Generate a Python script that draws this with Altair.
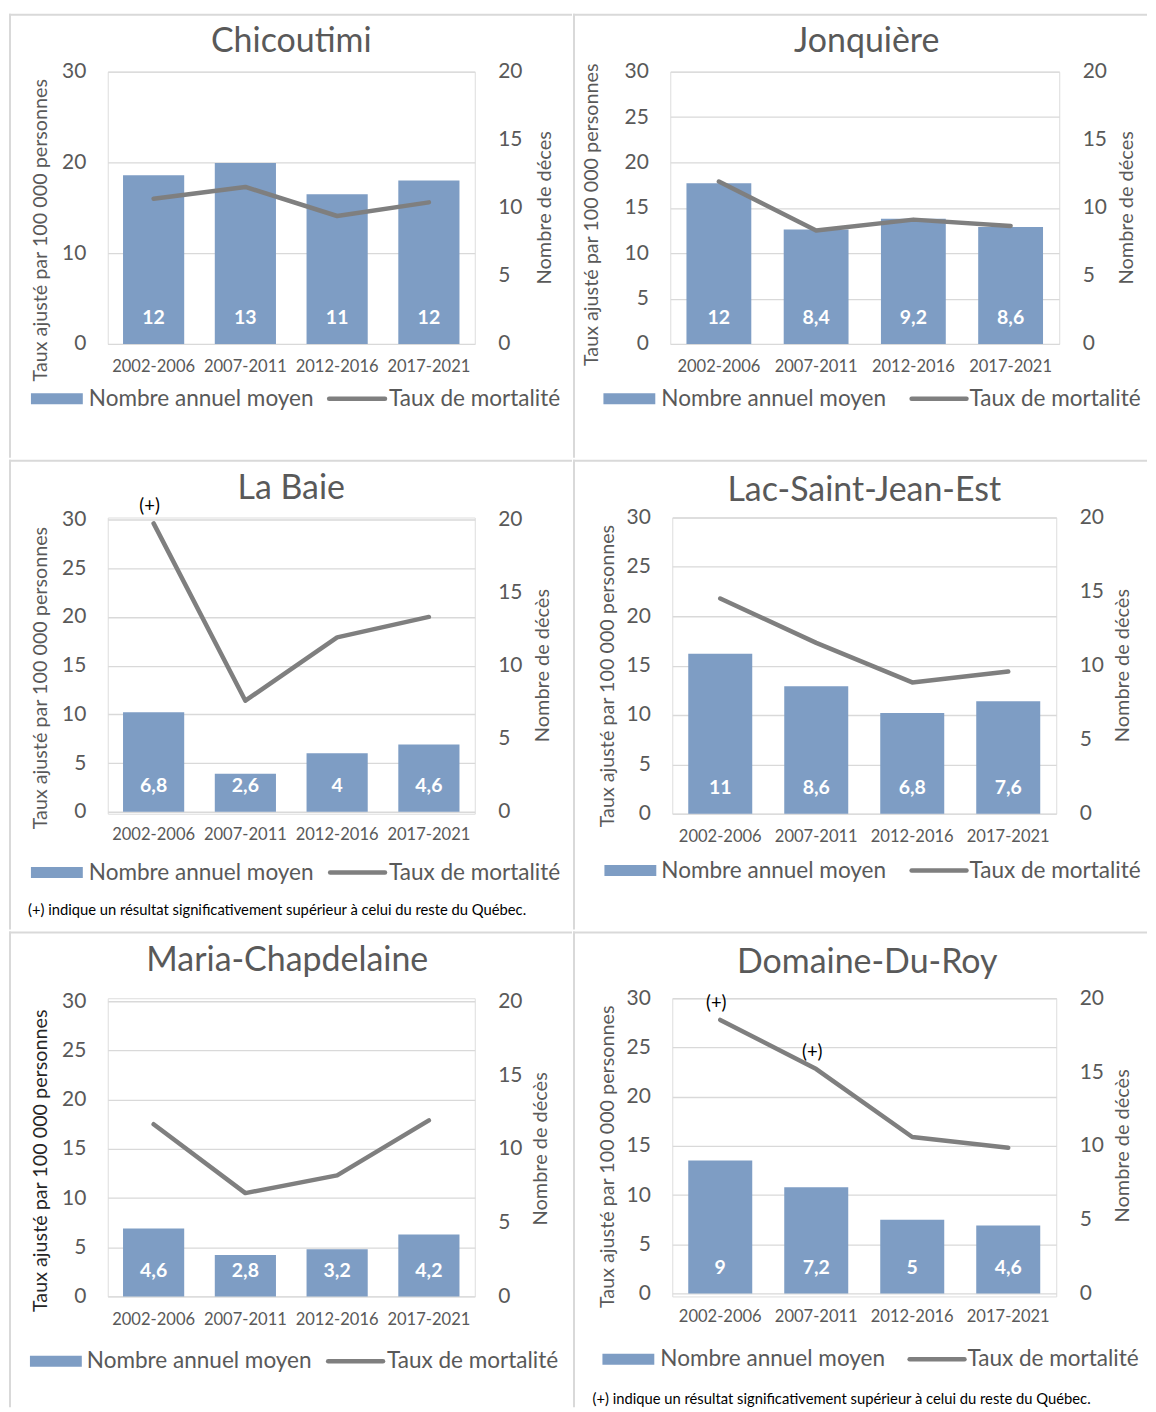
import altair as alt
import pandas as pd

# ---------------- data ----------------
periods = ["2002-2006", "2007-2011", "2012-2016", "2017-2021"]
regions = ["Chicoutimi", "Jonquière", "La Baie", "Lac-Saint-Jean-Est",
           "Maria-Chapdelaine", "Domaine-Du-Roy"]

counts_chicoutimi = [12.4, 13.3, 11.0, 12.0]
counts_jonquiere = [11.8, 8.4, 9.2, 8.6]
counts_labaie = [6.8, 2.6, 4.0, 4.6]
counts_lsje = [10.8, 8.6, 6.8, 7.6]
counts_maria = [4.6, 2.8, 3.2, 4.2]
counts_ddr = [9.0, 7.2, 5.0, 4.6]

labels_chicoutimi = ["12", "13", "11", "12"]
labels_jonquiere = ["12", "8,4", "9,2", "8,6"]
labels_labaie = ["6,8", "2,6", "4", "4,6"]
labels_lsje = ["11", "8,6", "6,8", "7,6"]
labels_maria = ["4,6", "2,8", "3,2", "4,2"]
labels_ddr = ["9", "7,2", "5", "4,6"]

rates_chicoutimi = [16.0, 17.3, 14.1, 15.6]
rates_jonquiere = [17.9, 12.5, 13.7, 13.0]
rates_labaie = [29.6, 11.4, 17.9, 20.0]
rates_lsje = [21.8, 17.3, 13.3, 14.4]
rates_maria = [17.5, 10.5, 12.3, 17.9]
rates_ddr = [27.8, 22.8, 15.9, 14.8]

plus_chicoutimi = ["", "", "", ""]
plus_jonquiere = ["", "", "", ""]
plus_labaie = ["(+)", "", "", ""]
plus_lsje = ["", "", "", ""]
plus_maria = ["", "", "", ""]
plus_ddr = ["(+)", "(+)", "", ""]

left_ticks_chicoutimi = [0, 10, 20, 30]
left_ticks_other = [0, 5, 10, 15, 20, 25, 30]
right_ticks = [0, 5, 10, 15, 20]

left_title = "Taux ajusté par 100 000 personnes"
right_title_a = "Nombre de déces"
right_title_b = "Nombre de décès"
legend_bar = "Nombre annuel moyen"
legend_line = "Taux de mortalité"
footnote = "(+) indique un résultat significativement supérieur à celui du reste du Québec."

DATA = {
    "Chicoutimi": (counts_chicoutimi, labels_chicoutimi, rates_chicoutimi, plus_chicoutimi, left_ticks_chicoutimi, right_title_a, None),
    "Jonquière": (counts_jonquiere, labels_jonquiere, rates_jonquiere, plus_jonquiere, left_ticks_other, right_title_a, None),
    "La Baie": (counts_labaie, labels_labaie, rates_labaie, plus_labaie, left_ticks_other, right_title_b, footnote),
    "Lac-Saint-Jean-Est": (counts_lsje, labels_lsje, rates_lsje, plus_lsje, left_ticks_other, right_title_b, None),
    "Maria-Chapdelaine": (counts_maria, labels_maria, rates_maria, plus_maria, left_ticks_other, right_title_b, None),
    "Domaine-Du-Roy": (counts_ddr, labels_ddr, rates_ddr, plus_ddr, left_ticks_other, right_title_b, footnote),
}

# ---------------- layout / style ----------------
BAR = "#7E9DC4"
LINE = "#7F7F7F"
TXT = "#595959"
GRID = "#D9D9D9"
FONT = "Lato"

# W,H: cell size; top/zero: pixel rows of 30 and 0 inside the cell
GEOM = {
    "Chicoutimi": dict(W=368, H=273, top=0, zero=273, fl=99, fr=97.5, ft=58, fb=114, ty=-30, tdx=0,
                       ltx=-67, lty=159, rtx=70, ly=55, sw=(-77, -25), t1=-19, ln=(222, 278), t2=282,
                       fx=-80, fy=100, ltc=TXT),
    "Jonquière": dict(W=390, H=273, top=0, zero=273, fl=97.5, fr=88, ft=58, fb=114, ty=-30, tdx=2,
                      ltx=-78, lty=143.5, rtx=68, ly=55, sw=(-67, -15), t1=-9, ln=(242, 297), t2=300,
                      fx=-80, fy=100, ltc=TXT),
    "La Baie": dict(W=368, H=297, top=2, zero=295, fl=99, fr=97.5, ft=58, fb=116, ty=-29, tdx=0,
                    ltx=-67, lty=161, rtx=68, ly=61, sw=(-77, -25), t1=-19, ln=(223, 278), t2=282,
                    fx=-80, fy=100, ltc=TXT),
    "Lac-Saint-Jean-Est": dict(W=385, H=297, top=0, zero=297, fl=99.5, fr=91, ft=58, fb=116, ty=-27, tdx=0,
                               ltx=-64, lty=159, rtx=67, ly=57, sw=(-68, -16), t1=-11, ln=(240, 295), t2=298,
                               fx=-80, fy=100, ltc=TXT),
    "Maria-Chapdelaine": dict(W=368, H=299, top=3, zero=299, fl=99, fr=97.5, ft=67, fb=111, ty=-37, tdx=-4,
                              ltx=-67, lty=163, rtx=66, ly=65, sw=(-78, -26), t1=-21, ln=(221, 276), t2=280,
                              fx=-80, fy=100, ltc="#262626"),
    "Domaine-Du-Roy": dict(W=385, H=299, top=0, zero=296, fl=99.5, fr=91, ft=67, fb=111, ty=-35, tdx=3,
                           ltx=-64, lty=159, rtx=67, ly=66, sw=(-70, -18), t1=-12, ln=(238, 293), t2=296,
                           fx=-80, fy=107, ltc=TXT),
}

one = pd.DataFrame({"k": [0]})


def panel(name):
    counts, labels, rates, plus, lticks, rtitle, foot = DATA[name]
    g = GEOM[name]
    W, H, top, zero = g["W"], g["H"], g["top"], g["zero"]
    df = pd.DataFrame({"periode": periods, "nombre": counts, "etiquette": labels,
                       "taux": rates, "plus": plus})

    xenc = alt.X("periode:N", sort=periods,
                 scale=alt.Scale(paddingInner=1 / 3, paddingOuter=1 / 6),
                 axis=alt.Axis(title=None, labelAngle=0, domain=False, ticks=False, tickSize=0,
                               labelPadding=15 - (H - zero), labelFontSize=16.6, labelColor=TXT,
                               labelFont=FONT))
    rate_scale = alt.Scale(domain=[0, 30], range=[zero, top], nice=False, zero=True)
    count_scale = alt.Scale(domain=[0, 20], range=[zero, top], nice=False, zero=True)

    bounds = alt.Chart(one).mark_rect(opacity=0).encode(
        x=alt.value(-g["fl"]), x2=alt.value(W + g["fr"]),
        y=alt.value(-g["ft"]), y2=alt.value(H + g["fb"]))
    top_line = alt.Chart(one).mark_rect(color=GRID).encode(
        x=alt.value(-g["fl"]), x2=alt.value(W + g["fr"]),
        y=alt.value(-g["ft"]), y2=alt.value(-g["ft"] + 2))
    left_line = alt.Chart(one).mark_rect(color=GRID).encode(
        x=alt.value(-g["fl"]), x2=alt.value(-g["fl"] + 2),
        y=alt.value(-g["ft"]), y2=alt.value(H + g["fb"]))

    bars = alt.Chart(df).mark_bar(color=BAR).encode(
        x=xenc,
        y=alt.Y("nombre:Q", scale=count_scale,
                axis=alt.Axis(orient="right", values=right_ticks, grid=False, domain=False,
                              ticks=False, tickSize=0, labelPadding=23, labelFontSize=21,
                              labelColor=TXT, labelFont=FONT, title=None)))
    line = alt.Chart(df).mark_line(color=LINE, strokeWidth=4.5, strokeCap="round",
                                   strokeJoin="round").encode(
        x=xenc,
        y=alt.Y("taux:Q", scale=rate_scale,
                axis=alt.Axis(orient="left", values=lticks, grid=True, gridColor=GRID,
                              gridWidth=1.3, domain=False, ticks=False, tickSize=0,
                              labelPadding=22, labelFontSize=21, labelColor=TXT,
                              labelFont=FONT, title=None)))
    bar_labels = alt.Chart(df).mark_text(color="white", fontWeight="bold", fontSize=19.5,
                                         font=FONT, baseline="middle").encode(
        x=xenc, y=alt.value(zero - 26), text="etiquette:N")
    plus_labels = alt.Chart(df).mark_text(color="black", fontSize=18.5, font=FONT,
                                          baseline="middle", dy=-17, dx=-4).encode(
        x=xenc,
        y=alt.Y("taux:Q", scale=rate_scale, axis=None),
        text="plus:N")

    title = alt.Chart(one).mark_text(fontSize=34, font=FONT, color=TXT, baseline="middle",
                                     align="center").encode(
        x=alt.value(W / 2 + g["tdx"]), y=alt.value(g["ty"]), text=alt.value(name))
    ltitle = alt.Chart(one).mark_text(fontSize=19.8, font=FONT, color=g["ltc"], angle=270,
                                      baseline="middle", align="center").encode(
        x=alt.value(g["ltx"]), y=alt.value(g["lty"]), text=alt.value(left_title))
    rtitle_m = alt.Chart(one).mark_text(fontSize=20, font=FONT, color=TXT, angle=270,
                                        baseline="middle", align="center").encode(
        x=alt.value(W + g["rtx"]), y=alt.value((top + zero) / 2), text=alt.value(rtitle))

    ly = zero + g["ly"]
    leg_sw = alt.Chart(one).mark_rect(color=BAR).encode(
        x=alt.value(g["sw"][0]), x2=alt.value(g["sw"][1]),
        y=alt.value(ly - 5.5), y2=alt.value(ly + 5.5))
    leg_t1 = alt.Chart(one).mark_text(fontSize=22.6, font=FONT, color=TXT, align="left",
                                      baseline="middle").encode(
        x=alt.value(g["t1"]), y=alt.value(ly), text=alt.value(legend_bar))
    leg_ln = alt.Chart(one).mark_rule(color=LINE, strokeWidth=4.5, strokeCap="round").encode(
        x=alt.value(g["ln"][0]), x2=alt.value(g["ln"][1]), y=alt.value(ly))
    leg_t2 = alt.Chart(one).mark_text(fontSize=22.6, font=FONT, color=TXT, align="left",
                                      baseline="middle").encode(
        x=alt.value(g["t2"]), y=alt.value(ly), text=alt.value(legend_line))

    layers = [bounds, top_line, left_line, bars, line, bar_labels, plus_labels, title,
              ltitle, rtitle_m, leg_sw, leg_t1, leg_ln, leg_t2]
    if foot:
        layers.append(alt.Chart(one).mark_text(fontSize=14.8, font=FONT, color="black",
                                               align="left", baseline="middle").encode(
            x=alt.value(g["fx"]), y=alt.value(zero + g["fy"]), text=alt.value(foot)))

    return alt.layer(*layers).resolve_scale(y="independent").properties(width=W, height=H)


rows = [
    alt.hconcat(panel(regions[0]), panel(regions[1]), spacing=0),
    alt.hconcat(panel(regions[2]), panel(regions[3]), spacing=0),
    alt.hconcat(panel(regions[4]), panel(regions[5]), spacing=0),
]

chart = alt.vconcat(*rows, spacing=0).properties(
    padding={"left": 0, "top": 3, "right": 0, "bottom": 0}
).configure_view(stroke=None).configure(background="white")

chart.save("out.html", embed_options={"renderer": "svg", "actions": False})
